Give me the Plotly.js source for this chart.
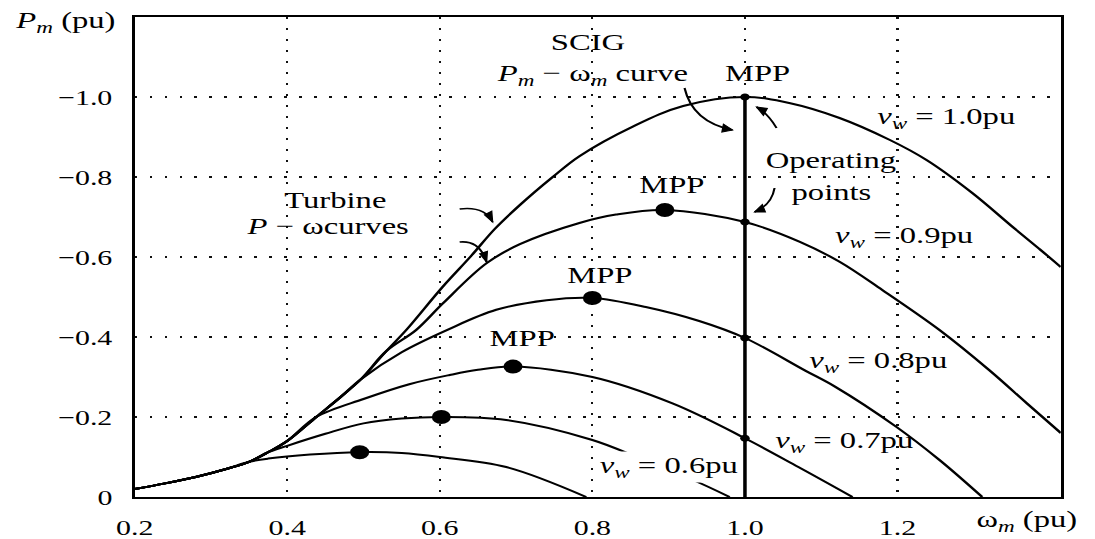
<!DOCTYPE html>
<html>
<head>
<meta charset="utf-8">
<script src="https://cdn.plot.ly/plotly-3.0.1.min.js"></script>
<style>
  html, body { margin: 0; padding: 0; background: #fff; overflow: hidden; }
  #wrap { width: 1095px; height: 539px; overflow: hidden; }
  #plot { width: 805px; height: 539px; transform: scaleX(1.36); transform-origin: 0 0; }
</style>
</head>
<body>
<div id="wrap"><div id="plot"></div></div>
<script>
// ---- data (ω_m in pu, P_m in pu; generator convention: negative) ----
const w10 = [0.2, 0.24, 0.28, 0.32, 0.35, 0.375, 0.40, 0.438, 0.47, 0.497, 0.53, 0.556, 0.604, 0.641, 0.672, 0.705, 0.748, 0.783, 0.853, 0.919, 1.0, 1.058, 1.124, 1.19, 1.238, 1.298, 1.351, 1.386, 1.414];
const p10 = [-0.02, -0.034, -0.05, -0.07, -0.088, -0.112, -0.14, -0.2, -0.25, -0.295, -0.365, -0.4175, -0.526, -0.6025, -0.67, -0.73, -0.80, -0.852, -0.926, -0.9775, -1.0, -0.985, -0.9475, -0.8925, -0.8425, -0.76, -0.675, -0.62, -0.575];

const w09 = [0.2, 0.24, 0.28, 0.32, 0.35, 0.375, 0.40, 0.438, 0.47, 0.497, 0.53, 0.569, 0.604, 0.661, 0.705, 0.783, 0.831, 0.895, 1.0, 1.072, 1.124, 1.18, 1.255, 1.32, 1.369, 1.414];
const p09 = [-0.02, -0.034, -0.05, -0.07, -0.088, -0.112, -0.14, -0.2, -0.25, -0.295, -0.365, -0.4175, -0.484, -0.584, -0.632, -0.685, -0.706, -0.7175, -0.6875, -0.638, -0.588, -0.5175, -0.4175, -0.3175, -0.235, -0.16];

const w08 = [0.2, 0.24, 0.28, 0.32, 0.35, 0.375, 0.40, 0.438, 0.47, 0.497, 0.55, 0.61, 0.674, 0.74, 0.80, 0.87, 0.94, 1.0, 1.079, 1.118, 1.198, 1.255, 1.311];
const p08 = [-0.02, -0.034, -0.05, -0.07, -0.088, -0.112, -0.14, -0.2, -0.25, -0.295, -0.362, -0.418, -0.468, -0.492, -0.4975, -0.475, -0.44, -0.3975, -0.316, -0.276, -0.176, -0.0925, 0];

const w07 = [0.2, 0.24, 0.28, 0.32, 0.35, 0.375, 0.40, 0.438, 0.50, 0.56, 0.613, 0.65, 0.696, 0.80, 0.905, 1.0, 1.07, 1.141];
const p07 = [-0.02, -0.034, -0.05, -0.07, -0.088, -0.112, -0.14, -0.2, -0.245, -0.282, -0.305, -0.318, -0.326, -0.30, -0.234, -0.147, -0.075, 0];

const w06 = [0.2, 0.24, 0.28, 0.32, 0.35, 0.375, 0.40, 0.45, 0.50, 0.55, 0.602, 0.687, 0.80, 0.862, 0.932, 0.98];
const p06 = [-0.02, -0.034, -0.05, -0.07, -0.088, -0.112, -0.128, -0.158, -0.184, -0.196, -0.2, -0.1925, -0.1425, -0.097, -0.0425, 0];

const w05 = [0.2, 0.24, 0.28, 0.32, 0.35, 0.375, 0.43, 0.495, 0.55, 0.60, 0.687, 0.792];
const p05 = [-0.02, -0.034, -0.05, -0.07, -0.088, -0.096, -0.106, -0.112, -0.11, -0.10, -0.075, 0];

// maximum power points (large dots)
const mppW = [0.495, 0.602, 0.696, 0.80, 0.895];
const mppP = [-0.112, -0.2, -0.326, -0.4975, -0.7175];

// SCIG Pm-ωm curve and operating points
const scigW = [1.0, 1.0];
const scigP = [0, -1.0];
const opW = [1.0, 1.0, 1.0, 1.0];
const opP = [-1.0, -0.6875, -0.3975, -0.147];

// tick labels
const xTickVals = [0.2, 0.4, 0.6, 0.8, 1.0, 1.2];
const xTickText = ["0.2", "0.4", "0.6", "0.8", "1.0", "1.2"];
const yTickVals = [0, -0.2, -0.4, -0.6, -0.8, -1.0];
const yTickText = ["0", "\u22120.2", "\u22120.4", "\u22120.6", "\u22120.8", "\u22121.0"];

// ---- drawing ----
const XR = [0.2, 1.414], YR = [0, -1.2];
const serif = "Liberation Serif, Times New Roman, serif";
const curveLine = {color: "#000", width: 2, shape: "spline", smoothing: 1.0};
function curve(w, p) {
  return {x: w, y: p, type: "scatter", mode: "lines", line: curveLine, hoverinfo: "skip", showlegend: false};
}
const traces = [
  curve(w05, p05), curve(w06, p06), curve(w07, p07),
  curve(w08, p08), curve(w09, p09), curve(w10, p10),
  {x: scigW, y: scigP, type: "scatter", mode: "lines", line: {color: "#000", width: 2.6}, showlegend: false, hoverinfo: "skip"},
  {x: mppW, y: mppP, type: "scatter", mode: "markers", marker: {color: "#000", size: 14}, showlegend: false, hoverinfo: "skip"},
  {x: opW, y: opP, type: "scatter", mode: "markers", marker: {color: "#000", size: 7}, showlegend: false, hoverinfo: "skip"}
];

const tf = {family: serif, size: 24, color: "#000"};
// italic subscript drawn with an explicit pixel size
const sub = s => `<span style="font-size:17px;font-style:italic;baseline-shift:-5px">${s}</span>`;
function label(x, y, text, extra) {
  return Object.assign({x: x, y: y, xref: "x", yref: "y", text: text, showarrow: false,
    font: tf, xanchor: "center", yanchor: "middle"}, extra || {});
}
const vw = "<i>v</i>" + sub("w") + " = ";
const annotations = [
  label(0.794, -1.1375, "SCIG"),
  label(0.799, -1.055, "<i>P</i>" + sub("m") + " \u2212 \u03c9" + sub("m") + " curve"),
  label(1.016, -1.06, "MPP"),
  label(0.905, -0.78, "MPP"),
  label(0.809, -0.555, "MPP"),
  label(0.7085, -0.3975, "MPP"),
  label(0.4634, -0.7425, "Turbine"),
  label(0.453, -0.6775, "<i>P</i> \u2212 \u03c9curves"),
  label(1.1135, -0.8425, "Operating"),
  label(1.1135, -0.7625, "points"),
  label(1.264, -0.9475, vw + "1.0pu"),
  label(1.209, -0.65, vw + "0.9pu"),
  label(1.176, -0.3375, vw + "0.8pu"),
  label(1.131, -0.1375, vw + "0.7pu"),
  label(0.901, -0.075, vw + "0.6pu", {bgcolor: "#fff", borderpad: 0}),
  // axis titles
  {x: -0.018, y: 0.99, xref: "paper", yref: "paper", text: "<i>P</i>" + sub("m") + " (pu)", showarrow: false,
    font: tf, xanchor: "right", yanchor: "middle"},
  {x: 1.021, y: -0.05, xref: "paper", yref: "paper", text: "\u03c9" + sub("m") + " (pu)", showarrow: false,
    font: tf, xanchor: "right", yanchor: "middle"}
];

// curved pointer arrows: quadratic path + small filled head (head built in screen px, mapped to data)
const pxPerX = 926 / (XR[1] - XR[0]);   // on-screen px per pu of ω
const pxPerY = 480 / (YR[0] - YR[1]);   // on-screen px per pu of P
const arrowLine = {color: "#000", width: 1.6};
function arrow(x0, y0, cx, cy, x1, y1) {
  const shp = [{type: "path", xref: "x", yref: "y", layer: "above", line: arrowLine,
    path: `M ${x0},${y0} Q ${cx},${cy} ${x1},${y1}`}];
  let dx = (x1 - cx) * pxPerX, dy = (y1 - cy) * pxPerY;
  const n = Math.hypot(dx, dy); dx /= n; dy /= n;
  const L = 10, H = 4;
  const bx = -L * dx, by = -L * dy;
  const p1 = [bx - H * dy, by + H * dx], p2 = [bx + H * dy, by - H * dx];
  const toD = p => [x1 + p[0] / pxPerX, y1 + p[1] / pxPerY];
  const a = toD(p1), b = toD(p2);
  shp.push({type: "path", xref: "x", yref: "y", layer: "above", line: {color: "#000", width: 1}, fillcolor: "#000",
    path: `M ${x1},${y1} L ${a[0]},${a[1]} L ${b[0]},${b[1]} Z`});
  return shp;
}
const shapes = [].concat(
  arrow(0.9208, -1.0225, 0.9313, -0.9375, 0.9837, -0.9175),
  arrow(1.0414, -0.9225, 1.0296, -0.96, 1.0152, -0.975),
  arrow(1.0388, -0.7725, 1.0349, -0.73, 1.0126, -0.7125),
  arrow(0.626, -0.72, 0.6587, -0.7275, 0.6692, -0.6875),
  arrow(0.626, -0.6375, 0.6522, -0.6425, 0.6613, -0.5875)
);

const axisCommon = {
  showline: true, mirror: true, linecolor: "#000", linewidth: 2,
  showgrid: true, gridcolor: "#111", gridwidth: 1.6, griddash: "2px,9px",
  zeroline: false, ticks: "", ticklabelstandoff: 10,
  tickfont: {family: serif, size: 22, color: "#000"}, tickmode: "array"
};
const layout = {
  width: 805, height: 539,
  margin: {l: 99, r: 25, t: 17, b: 42},
  paper_bgcolor: "#fff", plot_bgcolor: "#fff",
  showlegend: false,
  xaxis: Object.assign({}, axisCommon, {range: XR, tickvals: xTickVals, ticktext: xTickText}),
  yaxis: Object.assign({}, axisCommon, {range: YR, tickvals: yTickVals, ticktext: yTickText}),
  annotations: annotations,
  shapes: shapes
};
Plotly.newPlot("plot", traces, layout, {displayModeBar: false, staticPlot: true, responsive: false});
</script>
</body>
</html>
